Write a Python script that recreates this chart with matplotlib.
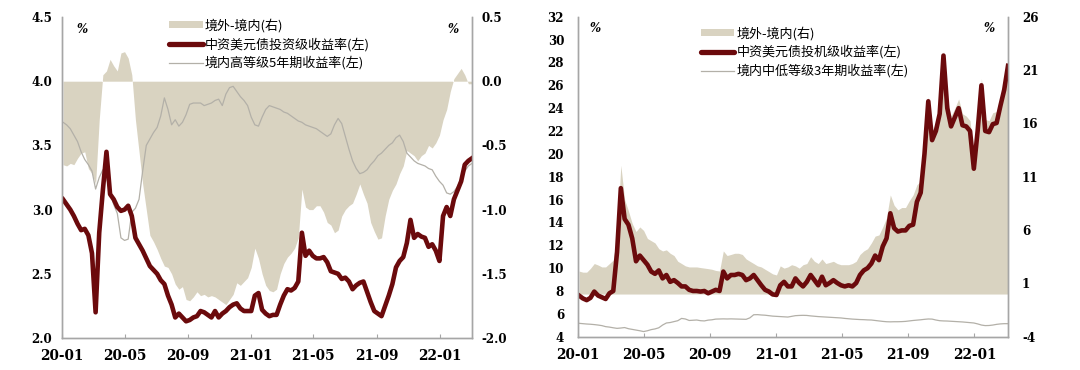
import numpy as np
import pandas as pd
import matplotlib
matplotlib.use("Agg")
import matplotlib.pyplot as plt
import matplotlib.dates as mdates
from matplotlib.ticker import MultipleLocator, FormatStrFormatter
from matplotlib.patches import Patch
from matplotlib.lines import Line2D

plt.rcParams['axes.unicode_minus'] = False

# ---------------- data ----------------
dates = pd.date_range('2020-01-03', periods=114, freq='W-FRI')

# left chart: investment grade
ig_yield = [3.08, 3.04, 3.00, 2.95, 2.89, 2.84, 2.85, 2.80, 2.66, 2.20,
            2.82, 3.15, 3.45, 3.12, 3.08, 3.02, 2.99, 3.00, 3.03, 2.95,
            2.78, 2.73, 2.68, 2.62, 2.56, 2.53, 2.50, 2.45, 2.42, 2.33,
            2.26, 2.16, 2.19, 2.16, 2.13, 2.14, 2.16, 2.17, 2.21, 2.20,
            2.18, 2.16, 2.21, 2.16, 2.19, 2.21, 2.24, 2.26, 2.27, 2.23,
            2.21, 2.21, 2.21, 2.33, 2.35, 2.22, 2.19, 2.17, 2.18, 2.18,
            2.26, 2.33, 2.38, 2.37, 2.39, 2.44, 2.82, 2.64, 2.68, 2.64,
            2.62, 2.62, 2.63, 2.59, 2.52, 2.51, 2.50, 2.46, 2.47, 2.44,
            2.38, 2.41, 2.43, 2.44, 2.36, 2.28, 2.21, 2.19, 2.17, 2.25,
            2.33, 2.42, 2.55, 2.60, 2.63, 2.74, 2.92, 2.78, 2.81, 2.79,
            2.78, 2.71, 2.73, 2.68, 2.60, 2.95, 3.02, 2.95, 3.08, 3.15,
            3.22, 3.35, 3.38, 3.40]
hg5y_yield = [3.68, 3.66, 3.63, 3.58, 3.53, 3.45, 3.39, 3.35, 3.30, 3.16,
              3.25, 3.31, 3.25, 3.13, 3.04, 2.97, 2.78, 2.76, 2.77, 2.98,
              3.01, 3.08, 3.30, 3.50, 3.55, 3.60, 3.64, 3.73, 3.87, 3.78,
              3.66, 3.70, 3.65, 3.68, 3.74, 3.82, 3.83, 3.83, 3.83, 3.81,
              3.82, 3.83, 3.85, 3.86, 3.81, 3.90, 3.95, 3.96, 3.92, 3.88,
              3.85, 3.81, 3.72, 3.66, 3.65, 3.72, 3.78, 3.81, 3.80, 3.79,
              3.78, 3.76, 3.75, 3.73, 3.71, 3.69, 3.68, 3.66, 3.65, 3.64,
              3.63, 3.61, 3.59, 3.57, 3.59, 3.66, 3.71, 3.67, 3.57, 3.47,
              3.38, 3.32, 3.28, 3.29, 3.31, 3.35, 3.38, 3.42, 3.44, 3.47,
              3.50, 3.52, 3.56, 3.58, 3.53, 3.44, 3.41, 3.38, 3.36, 3.35,
              3.34, 3.32, 3.31, 3.26, 3.22, 3.19, 3.13, 3.12, 3.14, 3.18,
              3.24, 3.30, 3.34, 3.36]
ig_spread = [-0.65, -0.66, -0.64, -0.65, -0.60, -0.56, -0.55, -0.68, -0.72, -0.80,
             -0.30, 0.05, 0.08, 0.17, 0.12, 0.08, 0.22, 0.23, 0.18, 0.05,
             -0.30, -0.55, -0.80, -1.00, -1.20, -1.25, -1.31, -1.38, -1.44, -1.45,
             -1.50, -1.58, -1.62, -1.60, -1.70, -1.71, -1.68, -1.64, -1.67, -1.66,
             -1.68, -1.67, -1.68, -1.70, -1.72, -1.74, -1.70, -1.66, -1.57, -1.59,
             -1.56, -1.53, -1.45, -1.30, -1.38, -1.50, -1.59, -1.63, -1.64, -1.62,
             -1.50, -1.42, -1.37, -1.34, -1.30, -1.22, -0.84, -0.98, -1.00, -1.00,
             -0.97, -0.97, -1.02, -1.10, -1.12, -1.18, -1.16, -1.05, -1.00, -0.97,
             -0.95, -0.88, -0.80, -0.88, -0.95, -1.10, -1.17, -1.23, -1.22, -1.05,
             -0.92, -0.85, -0.80, -0.72, -0.66, -0.54, -0.56, -0.58, -0.62, -0.58,
             -0.56, -0.50, -0.52, -0.48, -0.42, -0.30, -0.22, -0.08, 0.02, 0.06,
             0.10, 0.05, -0.02, -0.02]

# right chart: high yield
hy_yield = [7.60, 7.35, 7.20, 7.40, 7.95, 7.60, 7.45, 7.30, 7.80, 8.00,
            11.4, 17.0, 14.3, 13.8, 12.6, 10.6, 11.1, 10.7, 10.3, 9.70,
            9.50, 9.80, 9.10, 9.40, 8.80, 8.95, 8.70, 8.40, 8.40, 8.10,
            8.00, 8.00, 7.95, 8.00, 7.80, 7.95, 8.10, 8.00, 9.70, 9.10,
            9.40, 9.40, 9.50, 9.40, 8.95, 9.10, 9.40, 8.95, 8.50, 8.10,
            7.95, 7.70, 7.65, 8.50, 8.80, 8.40, 8.40, 9.10, 8.70, 8.40,
            8.80, 9.40, 8.95, 8.50, 9.25, 8.50, 8.70, 8.95, 8.70, 8.50,
            8.40, 8.50, 8.40, 8.70, 9.40, 9.80, 10.0, 10.4, 11.1, 10.7,
            11.9, 12.6, 14.8, 13.5, 13.2, 13.3, 13.3, 13.7, 13.8, 15.8,
            16.6, 20.0, 24.6, 21.2, 22.0, 23.5, 28.6, 24.0, 22.4, 23.2,
            24.0, 22.5, 22.4, 22.0, 18.7, 22.0, 26.0, 22.0, 21.9, 22.6,
            22.7, 24.2, 25.6, 27.7]
lg3y_yield = [5.17, 5.14, 5.11, 5.09, 5.06, 5.02, 4.97, 4.88, 4.84, 4.78,
              4.73, 4.76, 4.80, 4.70, 4.64, 4.58, 4.52, 4.45, 4.52, 4.62,
              4.68, 4.78, 5.02, 5.20, 5.24, 5.32, 5.40, 5.60, 5.55, 5.42,
              5.44, 5.46, 5.40, 5.38, 5.45, 5.48, 5.54, 5.55, 5.56, 5.55,
              5.56, 5.55, 5.54, 5.53, 5.52, 5.65, 5.92, 5.93, 5.90, 5.88,
              5.84, 5.80, 5.78, 5.76, 5.74, 5.72, 5.78, 5.84, 5.86, 5.87,
              5.86, 5.82, 5.79, 5.76, 5.74, 5.72, 5.70, 5.68, 5.66, 5.64,
              5.60, 5.57, 5.54, 5.52, 5.50, 5.49, 5.47, 5.46, 5.42, 5.38,
              5.34, 5.31, 5.30, 5.31, 5.31, 5.32, 5.34, 5.38, 5.42, 5.45,
              5.48, 5.52, 5.55, 5.54, 5.46, 5.40, 5.38, 5.37, 5.35, 5.33,
              5.31, 5.29, 5.26, 5.23, 5.20, 5.12, 5.02, 4.97, 4.98, 5.02,
              5.08, 5.12, 5.14, 5.14]
hy_spread = [2.15, 2.05, 2.05, 2.41, 2.86, 2.72, 2.54, 2.54, 2.86, 3.18,
             5.54, 12.07, 8.86, 7.79, 6.61, 5.86, 6.29, 5.96, 5.21, 5.00,
             4.79, 4.25, 4.04, 4.14, 3.82, 3.61, 3.07, 2.86, 2.64, 2.54,
             2.54, 2.54, 2.48, 2.43, 2.38, 2.32, 2.21, 2.16, 4.04, 3.61,
             3.71, 3.82, 3.82, 3.71, 3.29, 3.07, 2.86, 2.64, 2.54, 2.32,
             2.11, 1.89, 1.79, 2.64, 2.43, 2.54, 2.75, 2.64, 2.43, 2.75,
             2.86, 3.50, 3.07, 2.86, 3.29, 2.86, 2.96, 3.07, 2.86, 2.75,
             2.75, 2.75, 2.86, 3.07, 3.71, 4.04, 4.25, 4.79, 5.43, 5.54,
             6.29, 7.14, 9.29, 8.32, 7.89, 8.11, 8.11, 8.75, 9.29, 10.25,
             10.57, 14.00, 18.50, 15.29, 16.04, 17.43, 22.79, 18.29, 16.68, 17.43,
             18.29, 16.90, 16.68, 16.25, 12.71, 16.25, 20.21, 16.36, 16.25, 17.00,
             17.11, 18.39, 19.46, 21.29]

left_labels = ['境外-境内(右)', '中资美元债投资级收益率(左)', '境内高等级5年期收益率(左)']
right_labels = ['境外-境内(右)', '中资美元债投机级收益率(左)', '境内中低等级3年期收益率(左)']

# ---------------- style ----------------
RED = '#6b0a0c'
BEIGE = '#d9d3c1'
GREY = '#b3b0a8'
SPINE = '#a6a6a6'
NUMFONT = 'DejaVu Serif'
CJK = ['Noto Sans CJK SC', 'DejaVu Sans']

fig = plt.figure(figsize=(10.8, 3.7), dpi=100)


def make_panel(rect, lmin, lmax, lstep, lfmt, rmin, rmax, rstep, rfmt,
               y_main, y_grey, spread, labels, leg_anchor, pct_left, pct_right, ypad):
    ax = fig.add_axes(rect)
    ax2 = ax.twinx()
    ax2.fill_between(dates, 0, spread, color=BEIGE, linewidth=0)
    ax.plot(dates, y_grey, color=GREY, lw=0.9)
    ax.plot(dates, y_main, color=RED, lw=3.3, solid_joinstyle='round')
    ax.set_zorder(ax2.get_zorder() + 1)
    ax.patch.set_visible(False)

    ax.set_xlim(pd.Timestamp('2020-01-01'), dates[-1])
    ax.set_ylim(lmin, lmax)
    ax2.set_ylim(rmin, rmax)
    ax.yaxis.set_major_locator(MultipleLocator(lstep))
    ax.yaxis.set_major_formatter(FormatStrFormatter(lfmt))
    ax2.set_yticks(np.arange(rmin, rmax + rstep / 10, rstep))
    ax2.yaxis.set_major_formatter(FormatStrFormatter(rfmt))
    ax.xaxis.set_major_locator(mdates.MonthLocator(bymonth=[1, 5, 9]))
    ax.xaxis.set_major_formatter(mdates.DateFormatter('%y-%m'))

    for a in (ax, ax2):
        a.spines['top'].set_visible(False)
        for s in ('left', 'right', 'bottom'):
            a.spines[s].set_color(SPINE)
            a.spines[s].set_linewidth(1.0)
    ax.tick_params(axis='x', direction='in', length=3, color=SPINE, pad=8,
                   labelsize=9.8)
    ax.tick_params(axis='y', length=0, pad=ypad, labelsize=8.6)
    ax2.tick_params(axis='y', length=0, pad=ypad, labelsize=8.6)
    for lab in ax.get_xticklabels() + ax.get_yticklabels() + ax2.get_yticklabels():
        lab.set_fontfamily(NUMFONT)
        lab.set_fontweight('bold')

    handles = [Patch(facecolor=BEIGE, edgecolor='none'),
               Line2D([], [], color=RED, lw=3.8, solid_capstyle='round'),
               Line2D([], [], color=GREY, lw=0.9)]
    ax.legend(handles, labels, loc='upper left', bbox_to_anchor=leg_anchor,
              frameon=False, prop={'family': CJK, 'size': 9.4},
              handlelength=2.6, handleheight=0.45, handletextpad=0.15,
              labelspacing=0.38, borderpad=0, borderaxespad=0)
    for x in (pct_left, pct_right):
        ax.text(x, 0.962, '%', transform=ax.transAxes, ha='center', va='center',
                fontsize=8.5, fontstyle='italic', fontweight='bold', family=NUMFONT)
    return ax, ax2


make_panel([62 / 1080, 1 - 338 / 370, 410 / 1080, 321 / 370],
           2.0, 4.5, 0.5, '%.1f', -2.0, 0.5, 0.5, '%.1f',
           ig_yield, hg5y_yield, ig_spread, left_labels, (0.26, 0.995), 0.05, 0.955, 7)

make_panel([578 / 1080, 1 - 336.7 / 370, 430 / 1080, 320 / 370],
           4, 32, 2, '%d', -4, 26, 5, '%d',
           hy_yield, lg3y_yield, hy_spread, right_labels, (0.285, 0.97), 0.04, 0.955, 10)

fig.savefig('out.png', dpi=100)
